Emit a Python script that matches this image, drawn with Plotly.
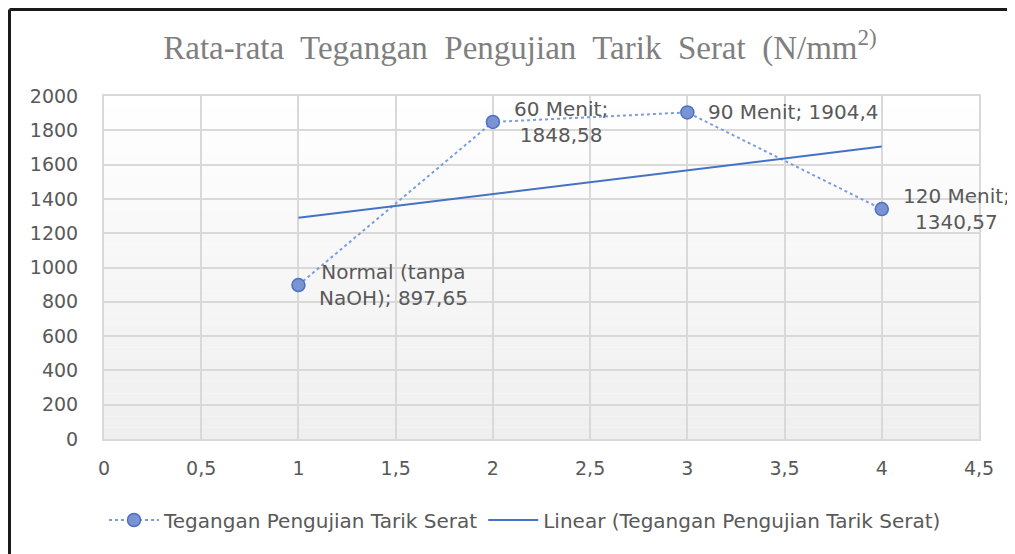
import numpy as np
import plotly.graph_objects as go

# ---- data ----
x_vals = [1, 2, 3, 4]
y_vals = [897.65, 1848.58, 1904.4, 1340.57]
point_labels = ["Normal (tanpa<br>NaOH); 897,65", "60 Menit;<br>1848,58",
                "90 Menit; 1904,4", "120 Menit;<br>1340,57"]
series_name = "Tegangan Pengujian Tarik Serat"
trend_name = "Linear (Tegangan Pengujian Tarik Serat)"
x_ticks = [0, 0.5, 1, 1.5, 2, 2.5, 3, 3.5, 4, 4.5]
x_tick_labels = ["0", "0,5", "1", "1,5", "2", "2,5", "3", "3,5", "4", "4,5"]
y_ticks = [0, 200, 400, 600, 800, 1000, 1200, 1400, 1600, 1800, 2000]
y_tick_labels = [str(v) for v in y_ticks]

# linear trendline (least squares fit of the series)
slope, intercept = np.polyfit(x_vals, y_vals, 1)
trend_x = [x_vals[0], x_vals[-1]]
trend_y = [slope * xv + intercept for xv in trend_x]

FONT = "DejaVu Sans"
FS = 19
FS_LAB = 20
TXT = "#595959"
GRID = "#d9d9d9"

W, H = 1007, 546
L, R, T, B = 96, 36, 88, 115
PW, PH = W - L - R, H - T - B

fig = go.Figure()
fig.add_trace(go.Scatter(
    x=x_vals, y=y_vals, mode="lines+markers", name=series_name,
    line=dict(color="#7b9de0", width=2, dash="dot"),
    marker=dict(size=13, color="#7b93d3", line=dict(color="#4a72c4", width=1.5)),
))
fig.add_trace(go.Scatter(
    x=trend_x, y=trend_y, mode="lines", name=trend_name,
    line=dict(color="#4472c4", width=2),
))

for xv, yv, lab in zip(x_vals, y_vals, point_labels):
    fig.add_annotation(x=xv, y=yv, text=lab, showarrow=False, xanchor="left",
                       yanchor="middle", align="center", xshift=19,
                       font=dict(family=FONT, size=FS_LAB, color=TXT))

# gradient background for plot area
n_bands = 30
for i in range(n_bands):
    t = i / (n_bands - 1)
    c = int(round(255 - (255 - 239) * (1 - t)))
    fig.add_shape(type="rect", xref="x domain", yref="y domain",
                  x0=0, x1=1, y0=i / n_bands, y1=(i + 1) / n_bands,
                  fillcolor=f"rgb({c},{c},{c})", line_width=0, layer="below")

# outer chart border (top & left)
top_y = 1 + (T - 1.5) / PH
left_x = -(L - 1.5) / PW
fig.add_shape(type="line", xref="paper", yref="paper", x0=left_x, x1=1.2,
              y0=top_y, y1=top_y, line=dict(color="#1a1a1a", width=3))
fig.add_shape(type="line", xref="paper", yref="paper", x0=left_x, x1=left_x,
              y0=-1, y1=top_y, line=dict(color="#1a1a1a", width=3))

fig.update_layout(
    width=W, height=H,
    margin=dict(l=L, r=R, t=T, b=B, pad=0),
    paper_bgcolor="white", plot_bgcolor="rgba(0,0,0,0)",
    title=dict(text="Rata-rata  Tegangan  Pengujian  Tarik  Serat  (N/mm<sup>2)</sup>",
               x=(520 - 8) / W, xanchor="center", y=1 - 39 / H, yanchor="middle",
               font=dict(family="Liberation Serif", size=33, color="#7f7f7f")),
    legend=dict(orientation="h", x=(525 - 8 - L) / PW, xanchor="center",
                y=(H - B - 512) / PH, yanchor="middle",
                font=dict(family=FONT, size=FS_LAB, color=TXT), itemwidth=50,
                traceorder="normal", bgcolor="rgba(0,0,0,0)"),
    font=dict(family=FONT, size=FS, color=TXT),
)
fig.update_xaxes(range=[0, 4.5], tickvals=x_ticks, ticktext=x_tick_labels,
                 showgrid=True, gridcolor=GRID, gridwidth=2,
                 showline=True, linecolor=GRID, linewidth=2, mirror=True,
                 zeroline=False, ticks="", ticklabelstandoff=11,
                 tickfont=dict(family=FONT, size=FS, color=TXT))
fig.update_yaxes(range=[0, 2000], tickvals=y_ticks, ticktext=y_tick_labels,
                 showgrid=True, gridcolor=GRID, gridwidth=2,
                 showline=True, linecolor=GRID, linewidth=2, mirror=True,
                 zeroline=False, ticks="", ticklabelstandoff=20,
                 tickfont=dict(family=FONT, size=FS, color=TXT))

fig.write_html("out.html")
